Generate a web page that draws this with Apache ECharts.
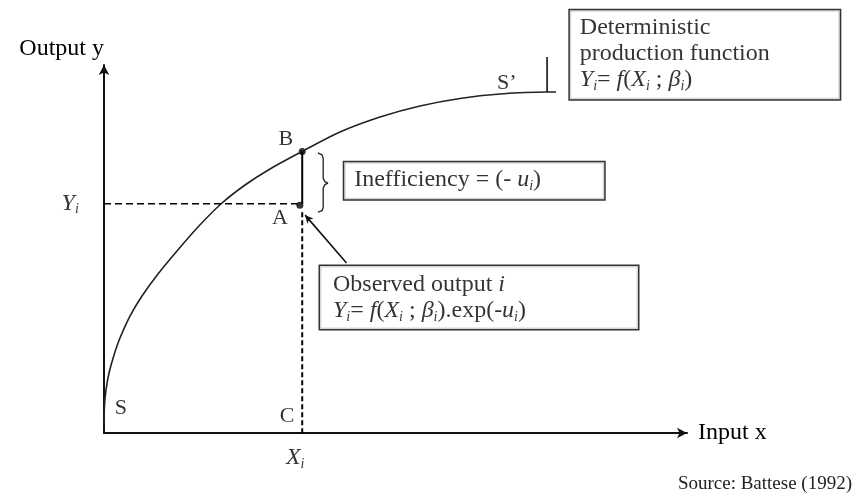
<!DOCTYPE html>
<html><head><meta charset="utf-8">
<script src="https://cdn.jsdelivr.net/npm/echarts@6/dist/echarts.min.js"></script>
<style>html,body{margin:0;padding:0;background:#fff}#c{width:857px;height:501px}</style>
</head><body><div id="c"></div>
<script>
// Deterministic production frontier S – S'
const curveX = [0, 0.09, 0.34, 0.86, 1.72, 2.74, 4.46, 6.52, 9.26, 12.52, 16.12, 20.15, 24.19, 28.47, 33.96, 40.48, 47.34, 54.2, 61.06, 67.92, 75.99, 77.53];
const curveY = [2.2, 7.61, 11.68, 16.3, 21.2, 25.82, 31.79, 37.23, 43.21, 49.46, 55.98, 62.36, 67.39, 71.74, 76.49, 81.79, 85.87, 88.86, 90.9, 92.12, 92.66, 92.66];
// Observed firm i
const inputXi = 34.0;
const outputYi = 62.3;      // point A (observed output)
const frontierYi = 76.5;    // point B (frontier output at X_i)
const dashStartY = 60.0;
// brace marking the inefficiency gap
const braceX = [36.7, 37.4, 37.6, 37.6, 37.9, 38.4, 37.9, 37.6, 37.6, 37.4, 36.7];
const braceY = [76.1, 75.6, 74.6, 69.2, 68.3, 67.9, 67.5, 66.6, 61.3, 60.4, 60.0];
// pointer from the "observed output" box to A
const arrowFrom = [41.6, 46.2];
const arrowTo = [34.5, 59.2];
// small marker at S'
const sPrimeTickX = 76.0;
const sPrimeTickY = [92.66, 102.2];
// letter labels (centre positions)
const letterNames = ['B', 'A', 'C', 'S', 'S\u2019'];
const letterX = [31.2, 30.2, 31.4, 2.9, 69.1];
const letterY = [79.9, 58.4, 4.6, 6.8, 95.1];
// box anchors (top-left corners)
const boxDetAnchor = [79.9, 114.9];
const boxIneffAnchor = [41.2, 73.6];
const boxObsAnchor = [37.05, 45.4];

const F = "'Liberation Serif','Times New Roman',serif";
const TXT = '#000';
const FS = 24;
const rich = {
  n: {fontFamily: F, fontSize: FS, color: TXT, lineHeight: 26},
  it: {fontFamily: F, fontSize: FS, fontStyle: 'italic', color: TXT, lineHeight: 26},
  sub: {fontFamily: F, fontSize: 14, fontStyle: 'italic', color: TXT, lineHeight: 14, verticalAlign: 'bottom'}
};
const formula = '{it|Y}{sub|i}{n|= }{it|f}{n|(}{it|X}{sub|i}{n| ; }{it|\u03b2}{sub|i}{n|)}';

const pts = (xs, ys) => xs.map((x, i) => [x, ys[i]]);

function boxLabel(text, w, h, pad) {
  return {
    show: true, position: 'inside', align: 'left', verticalAlign: 'top',
    formatter: text, rich: rich, width: w, height: h, padding: pad,
    fontFamily: F, fontSize: FS, color: TXT, lineHeight: 26,
    borderColor: '#000', borderWidth: 1.5, backgroundColor: '#fff'
  };
}

const chart = echarts.init(document.getElementById('c'), null, {renderer: 'canvas'});
const lineBase = {type: 'line', symbol: 'none', silent: true, animation: false, clip: false};

chart.setOption({
  animation: false,
  backgroundColor: '#fff',
  title: {text: 'Source: Battese (1992)', right: 0, bottom: 2,
    textStyle: {fontFamily: F, fontSize: 19, fontWeight: 'normal', color: '#222'}},
  grid: {left: 104, right: 170, top: 65, bottom: 68},
  xAxis: {type: 'value', min: 0, max: 100, splitLine: {show: false},
    axisTick: {show: false}, axisLabel: {show: false},
    axisLine: {lineStyle: {color: '#111', width: 2}, symbol: ['none', 'arrow'], symbolSize: [8, 10]},
    name: 'Input x', nameLocation: 'end', nameGap: 11,
    nameTextStyle: {fontFamily: F, fontSize: FS, color: TXT, verticalAlign: 'middle', padding: [10, 0, 0, 0]}},
  yAxis: {type: 'value', min: 0, max: 100, splitLine: {show: false},
    axisTick: {show: false}, axisLabel: {show: false},
    axisLine: {lineStyle: {color: '#111', width: 2}, symbol: ['none', 'arrow'], symbolSize: [8, 10]},
    name: 'Output y', nameLocation: 'end', nameGap: 4,
    nameTextStyle: {fontFamily: F, fontSize: FS, color: TXT, align: 'right', verticalAlign: 'bottom'}},
  series: [
    Object.assign({}, lineBase, {name: 'frontier', data: pts(curveX, curveY), smooth: 0.3,
      lineStyle: {color: '#222', width: 1.6}}),
    Object.assign({}, lineBase, {name: 'Yi', data: [[0, outputYi], [inputXi - 0.5, outputYi]],
      lineStyle: {color: '#000', width: 1.5, type: [7, 4]}}),
    Object.assign({}, lineBase, {name: 'Xi', data: [[inputXi, dashStartY], [inputXi, 0]],
      lineStyle: {color: '#000', width: 2, type: [5, 3]}}),
    Object.assign({}, lineBase, {name: 'gap', data: [[inputXi, frontierYi], [inputXi, outputYi]],
      lineStyle: {color: '#000', width: 2}}),
    Object.assign({}, lineBase, {name: 'brace', data: pts(braceX, braceY),
      lineStyle: {color: '#222', width: 1.3}}),
    Object.assign({}, lineBase, {name: 'tick', data: [[sPrimeTickX, sPrimeTickY[0]], [sPrimeTickX, sPrimeTickY[1]]],
      lineStyle: {color: '#000', width: 1.5}}),
    {type: 'line', data: [], silent: true,
      markLine: {silent: true, symbol: ['none', 'arrow'], symbolSize: [6, 8], label: {show: false},
        lineStyle: {color: '#111', width: 1.6, type: 'solid'},
        data: [[{coord: arrowFrom}, {coord: arrowTo}]]}},
    {type: 'scatter', name: 'points', silent: true, clip: false, symbolSize: 7,
      itemStyle: {color: '#000'},
      data: [[inputXi, frontierYi], [inputXi - 0.4, outputYi - 0.4]]},
    {type: 'scatter', name: 'letters', silent: true, clip: false, symbolSize: 0,
      label: {show: true, position: 'inside', formatter: p => p.name, rich: rich,
        fontFamily: F, fontSize: 22, color: TXT},
      data: letterNames.map((n, i) => ({name: n, value: [letterX[i], letterY[i]]})).concat([
        {name: '{it|Y}{sub|i}', value: [-5.8, outputYi]},
        {name: '{it|X}{sub|i}', value: [32.8, -6.8]}
      ])},
    {type: 'scatter', name: 'boxes', silent: true, clip: false, symbolSize: 0,
      data: [
        {value: boxDetAnchor, label: boxLabel('{n|Deterministic}\n{n|production function}\n' + formula, 250, 84, [5, 10, 0, 10])},
        {value: boxIneffAnchor, label: boxLabel('{n|Inefficiency = (- }{it|u}{sub|i}{n|)}', 240, 27, [5, 10, 5, 10])},
        {value: boxObsAnchor, label: boxLabel('{n|Observed output }{it|i}\n' + formula + '{n|.exp(-}{it|u}{sub|i}{n|)}', 300, 50, [6, 5, 7, 13])}
      ]}
  ]
});
</script></body></html>
